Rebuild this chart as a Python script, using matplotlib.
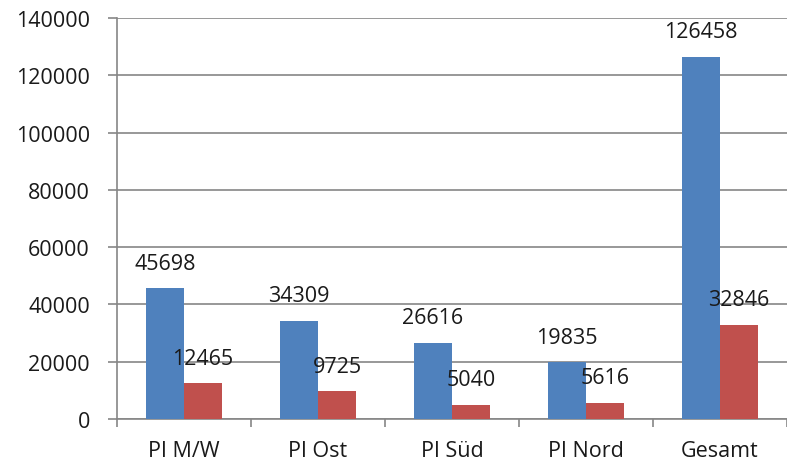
import matplotlib.pyplot as plt
import numpy as np

categories = ["PI M/W", "PI Ost", "PI Süd", "PI Nord", "Gesamt"]
blue_vals = [45698, 34309, 26616, 19835, 126458]
red_vals = [12465, 9725, 5040, 5616, 32846]

plt.rcParams['font.family'] = ['Open Sans', 'DejaVu Sans']

fig = plt.figure(figsize=(7.87, 4.64), dpi=100)
ax = fig.add_axes([0.1487, 0.0948, 0.8513, 0.8643])

x = np.arange(len(categories))
w = 0.283
gray = '#868686'

ax.bar(x - w / 2, blue_vals, w, color='#4F81BD', zorder=3)
ax.bar(x + w / 2, red_vals, w, color='#C0504D', zorder=3)

for xi, v in zip(x, blue_vals):
    ax.annotate(str(v), (xi - w / 2, v), xytext=(0, 25), textcoords='offset pixels',
                ha='center', va='center', fontsize=15.5, color='#1a1a1a', zorder=4)
for xi, v in zip(x, red_vals):
    ax.annotate(str(v), (xi + w / 2, v), xytext=(0, 25), textcoords='offset pixels',
                ha='center', va='center', fontsize=15.5, color='#1a1a1a', zorder=4)

ax.set_xlim(-0.5, len(categories) - 0.5)
ax.set_ylim(0, 140000)
ax.set_yticks(np.arange(0, 140001, 20000))
ax.set_xticks(x)
ax.set_xticklabels(categories)
ax.set_xticks(np.arange(-0.5, len(categories), 1.0), minor=True)

ax.yaxis.grid(True, color=gray, linewidth=1.2, zorder=0)
for s in ['top', 'right']:
    ax.spines[s].set_visible(False)
for s in ['left', 'bottom']:
    ax.spines[s].set_color(gray)
    ax.spines[s].set_linewidth(1.2)

ax.tick_params(axis='y', length=6.5, width=1.2, color=gray, pad=13, labelsize=15.5, labelcolor='#1a1a1a')
ax.tick_params(axis='x', which='major', length=0, pad=15, labelsize=15.5, labelcolor='#1a1a1a')
ax.tick_params(axis='x', which='minor', length=6, width=1.2, color=gray)

fig.savefig('out.png', dpi=100)
